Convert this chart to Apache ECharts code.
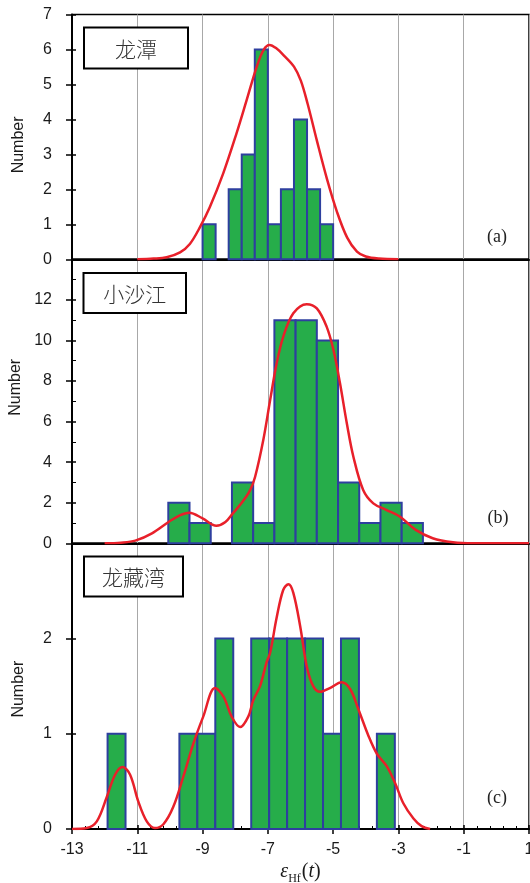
<!DOCTYPE html>
<html><head><meta charset="utf-8">
<script src="https://cdn.jsdelivr.net/npm/echarts@6/dist/echarts.min.js"></script>
<style>html,body{margin:0;padding:0;background:#fff}#c{width:530px;height:883px}</style>
</head><body><div id="c"></div>
<script>
// ---------- data ----------
const panelNames = ['龙潭', '小沙江', '龙藏湾'];
const panelTags = ['(a)', '(b)', '(c)'];

// histogram bin edges and counts
const edgesA = [-9.0, -8.6, -8.2, -7.8, -7.4, -7.0, -6.6, -6.2, -5.8, -5.4, -5.0];
const countsA = [1, 0, 2, 3, 6, 1, 2, 4, 2, 1];

const edgesB = [-10.05, -9.4, -8.75, -8.1, -7.45, -6.8, -6.15, -5.5, -4.85, -4.2, -3.55, -2.9, -2.25];
const countsB = [2, 1, 0, 3, 1, 11, 11, 10, 3, 1, 2, 1];

const edgesC = [-11.91, -11.36, -10.81, -10.26, -9.71, -9.16, -8.61, -8.06, -7.51, -6.96, -6.41, -5.86, -5.31, -4.76, -4.21, -3.66, -3.11];
const countsC = [1, 0, 0, 0, 1, 1, 2, 0, 2, 2, 2, 2, 1, 2, 0, 1];

// probability density curves (x, y)
const curveA = [[-11.0,0],[-10.5,0.02],[-10.1,0.06],[-9.69,0.2],[-9.39,0.44],[-9.08,0.92],[-8.78,1.49],[-8.37,2.45],[-7.96,3.6],[-7.65,4.55],[-7.34,5.51],[-7.13,5.99],[-6.95,6.13],[-6.75,6.04],[-6.5,5.82],[-6.2,5.51],[-5.99,5.11],[-5.78,4.44],[-5.5,3.4],[-5.19,2.3],[-4.88,1.35],[-4.57,0.62],[-4.27,0.22],[-4.0,0.08],[-3.6,0.02],[-3.0,0]];

const curveB = [[-12.0,0],[-11.5,0.03],[-11.06,0.13],[-10.55,0.49],[-10.03,1.06],[-9.7,1.38],[-9.41,1.51],[-9.0,1.23],[-8.58,0.87],[-8.3,1.05],[-8.06,1.5],[-7.8,2.0],[-7.55,2.6],[-7.39,3.28],[-7.14,5.09],[-6.93,7.06],[-6.73,8.87],[-6.53,10.18],[-6.22,11.34],[-5.81,11.79],[-5.5,11.58],[-5.2,10.68],[-4.99,9.53],[-4.79,7.89],[-4.58,5.91],[-4.38,4.27],[-4.08,2.63],[-3.77,1.97],[-3.36,1.64],[-2.95,1.31],[-2.47,0.66],[-1.95,0.25],[-1.33,0.05],[-0.71,0],[1.0,0]];

const curveC = [[-13.0,0],[-12.55,0.01],[-12.24,0.08],[-11.94,0.33],[-11.68,0.57],[-11.45,0.65],[-11.22,0.57],[-10.97,0.29],[-10.71,0.08],[-10.46,0.01],[-10.2,0.05],[-9.9,0.23],[-9.59,0.55],[-9.28,0.9],[-8.98,1.18],[-8.62,1.48],[-8.36,1.39],[-8.11,1.18],[-7.85,1.07],[-7.6,1.18],[-7.45,1.35],[-7.24,1.5],[-7.04,1.75],[-6.93,1.85],[-6.73,2.22],[-6.53,2.51],[-6.37,2.57],[-6.22,2.48],[-6.01,2.13],[-5.81,1.71],[-5.61,1.5],[-5.4,1.44],[-5.1,1.48],[-4.74,1.54],[-4.48,1.47],[-4.23,1.26],[-3.92,0.98],[-3.66,0.79],[-3.36,0.66],[-3.1,0.48],[-2.85,0.27],[-2.54,0.11],[-2.29,0.03],[-2.03,0]];

// axis ranges
const xMin = -13, xMax = 1, xStep = 2;
const yMaxes = [7, 14, 3];
const ySteps = [1, 2, 1];

// ---------- styling ----------
const GREEN = '#26AD4A', BLUE = '#2E3F9F', RED = '#E8202A', GRIDC = '#a8a8a8', INK = '#1a1a1a';
const grids = [
  {left: 72, right: 1, top: 14.5, height: 244.8},
  {left: 72, right: 1, top: 259.3, height: 284},
  {left: 72, right: 1, top: 543.3, height: 285.7}
];
const namePads = [[0,16,0,0],[0,0,0,28],[0,6,0,0]];

function binRows(edges, counts) {
  return counts.map((c, i) => [edges[i], edges[i + 1], c]);
}
function renderBar(params, api) {
  const h = api.value(2);
  if (!h) return null;
  const p0 = api.coord([api.value(0), h]);
  const p1 = api.coord([api.value(1), 0]);
  return {
    type: 'rect',
    shape: {x: p0[0], y: p0[1], width: p1[0] - p0[0], height: p1[1] - p0[1]},
    style: {fill: GREEN, stroke: BLUE, lineWidth: 2}
  };
}

const xAxes = [], yAxes = [];
for (let i = 0; i < 3; i++) {
  const last = i === 2;
  xAxes.push({
    type: 'value', gridIndex: i, min: xMin, max: xMax, interval: xStep, position: 'bottom',
    axisLine: {show: true, onZero: false, lineStyle: {color: '#000', width: 2}},
    axisTick: {show: last, inside: true, length: 4, lineStyle: {color: '#000', width: 1.5}},
    minorTick: {show: last, splitNumber: 5, length: 3, lineStyle: {color: '#000', width: 1}},
    axisLabel: {show: last, color: INK, fontSize: 16, fontFamily: 'Liberation Sans', margin: 13},
    splitLine: {show: true, lineStyle: {color: GRIDC, width: 1}},
    name: last ? '{e|ε}{s|Hf}{p|(}{t|t}{p|)}' : '',
    nameLocation: 'middle', nameGap: 30,
    nameTextStyle: {
      rich: {
        e: {fontFamily: 'Liberation Serif', fontStyle: 'italic', fontSize: 20, color: INK, lineHeight: 26},
        s: {fontFamily: 'Liberation Serif', fontSize: 12, color: INK, lineHeight: 12, padding: [14, 1, 0, 0]},
        p: {fontFamily: 'Liberation Serif', fontSize: 20, color: INK, lineHeight: 26},
        t: {fontFamily: 'Liberation Serif', fontStyle: 'italic', fontSize: 20, color: INK, lineHeight: 26}
      }
    }
  });
  yAxes.push({
    type: 'value', gridIndex: i, min: 0, max: yMaxes[i], interval: ySteps[i], position: 'left',
    axisLine: {show: true, onZero: false, lineStyle: {color: '#000', width: 2}},
    axisTick: {show: true, inside: true, length: 4, lineStyle: {color: '#000', width: 1.5}},
    minorTick: {show: i === 1, splitNumber: 2, length: 4, lineStyle: {color: '#000', width: 1}},
    axisLabel: {color: INK, fontSize: 16, fontFamily: 'Liberation Sans', margin: 20, showMaxLabel: i === 0},
    splitLine: {show: false},
    name: 'Number', nameLocation: 'middle', nameGap: 45,
    nameTextStyle: {color: INK, fontSize: 16, fontFamily: 'Liberation Sans', padding: namePads[i]}
  });
}
// overlay axes to give major ticks that cross the axis lines
for (let i = 0; i < 3; i++) {
  yAxes.push({
    type: 'value', gridIndex: i, min: 0, max: yMaxes[i], interval: ySteps[i], position: 'left', offset: 0,
    axisLine: {show: false, onZero: false}, axisLabel: {show: false}, splitLine: {show: false},
    axisTick: {show: true, inside: false, length: 6, lineStyle: {color: '#000', width: 1.5}}
  });
}
xAxes.push({
  type: 'value', gridIndex: 2, min: xMin, max: xMax, interval: xStep, position: 'bottom', offset: 0,
  axisLine: {show: false, onZero: false}, axisLabel: {show: false}, splitLine: {show: false},
  axisTick: {show: true, inside: false, length: 5, lineStyle: {color: '#000', width: 1.5}}
});

const binsets = [binRows(edgesA, countsA), binRows(edgesB, countsB), binRows(edgesC, countsC)];
const curves = [curveA, curveB, curveC];
const series = [];
for (let i = 0; i < 3; i++) {
  series.push({
    type: 'custom', xAxisIndex: i, yAxisIndex: i, renderItem: renderBar,
    encode: {x: [0, 1], y: 2}, data: binsets[i], z: 2
  });
  series.push({
    type: 'line', xAxisIndex: i, yAxisIndex: i, data: curves[i], smooth: 0.35,
    showSymbol: false, symbol: 'none', lineStyle: {color: RED, width: 2.5}, z: 3
  });
}

const boxes = [
  {x: 84, y: 27.5, w: 104, h: 41},
  {x: 83.5, y: 273, w: 102.5, h: 40},
  {x: 84, y: 556.5, w: 99, h: 40}
];
const tagPos = [[497, 237], [498, 518], [497, 798]];
const graphic = [];
boxes.forEach((b, i) => {
  graphic.push({type: 'rect', z: 100, shape: {x: b.x, y: b.y, width: b.w, height: b.h},
    style: {fill: '#fff', stroke: '#000', lineWidth: 2}});
  graphic.push({type: 'text', z: 101, x: b.x + b.w / 2, y: b.y + b.h / 2 + 1,
    style: {text: panelNames[i], fontFamily: 'Noto Sans CJK SC', fontSize: 21, fontWeight: 300, fill: '#333',
      align: 'center', verticalAlign: 'middle'}});
  graphic.push({type: 'text', z: 101, x: tagPos[i][0], y: tagPos[i][1],
    style: {text: panelTags[i], fontFamily: 'Liberation Serif', fontSize: 18, fill: '#222',
      align: 'center', verticalAlign: 'middle'}});
});

const chart = echarts.init(document.getElementById('c'), null, {renderer: 'canvas'});
chart.setOption({
  backgroundColor: '#fff',
  animation: false,
  grid: grids.map(g => Object.assign({show: true, borderColor: '#000', borderWidth: 1.5,
    containLabel: false, outerBoundsMode: 'none'}, g)),
  xAxis: xAxes,
  yAxis: yAxes,
  series: series,
  graphic: graphic
});
</script></body></html>
